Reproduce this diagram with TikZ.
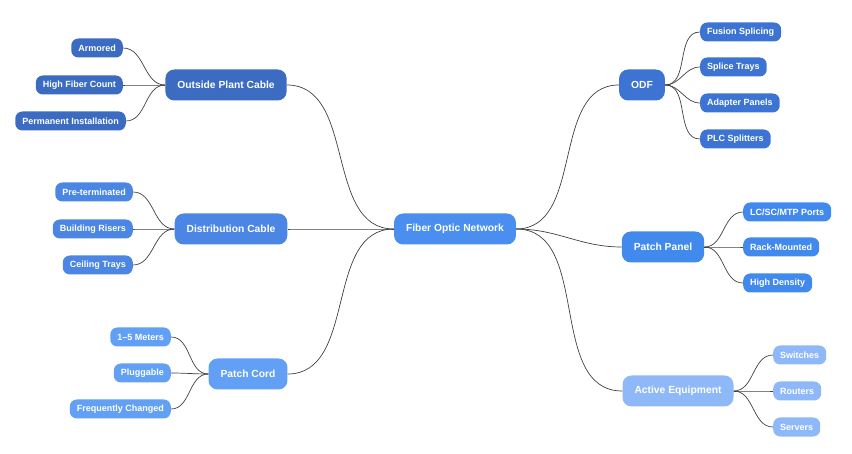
\documentclass[tikz,border=0pt]{standalone}
\usepackage{fontspec}
\setmainfont{Liberation Sans}
\begin{document}
\begin{tikzpicture}[x=1pt,y=-1pt,
  base/.style={rounded corners=7pt,text=white,font=\bfseries\fontsize{9}{10}\selectfont,inner xsep=7pt,minimum height=19pt},
  main/.style={base,rounded corners=9pt,font=\bfseries\fontsize{10.3}{12}\selectfont,minimum height=31pt,inner xsep=12pt},
  leafL/.style={base,anchor=east,fill=#1},
  leafR/.style={base,anchor=west,fill=#1},
  link/.style={draw=black!75,line width=0.7pt},
]
\useasboundingbox (0,0) rectangle (852,454);
\definecolor{cA}{HTML}{3B6CC2}
\definecolor{cB}{HTML}{4B86E4}
\definecolor{cC}{HTML}{62A0F6}
\definecolor{cD}{HTML}{3D74D3}
\definecolor{cE}{HTML}{4289EE}
\definecolor{cF}{HTML}{8FB8F8}
\definecolor{cM}{HTML}{4A8EF0}

\node[main,fill=cM] (root) at (455,229) {Fiber Optic Network};

\node[main,fill=cA] (opc) at (226,85) {Outside Plant Cable};
\node[main,fill=cB] (dc) at (231,229) {Distribution Cable};
\node[main,fill=cC] (pc) at (248,374) {Patch Cord};
\node[main,fill=cD] (odf) at (642,85) {ODF};
\node[main,fill=cE] (pp) at (663,247) {Patch Panel};
\node[main,fill=cF] (ae) at (678,391) {Active Equipment};

\node[leafL=cA] (a1) at (123,48) {Armored};
\node[leafL=cA] (a2) at (123,85) {High Fiber Count};
\node[leafL=cA] (a3) at (126,121) {Permanent Installation};
\node[leafL=cB] (b1) at (133,192) {Pre-terminated};
\node[leafL=cB] (b2) at (133,229) {Building Risers};
\node[leafL=cB] (b3) at (133,265) {Ceiling Trays};
\node[leafL=cC] (c1) at (171,337) {1–5 Meters};
\node[leafL=cC] (c2) at (171,373) {Pluggable};
\node[leafL=cC] (c3) at (171,409) {Frequently Changed};

\node[leafR=cD] (d1) at (700,32) {Fusion Splicing};
\node[leafR=cD] (d2) at (700,67) {Splice Trays};
\node[leafR=cD] (d3) at (700,103) {Adapter Panels};
\node[leafR=cD] (d4) at (700,139) {PLC Splitters};
\node[leafR=cE] (e1) at (743,212) {LC/SC/MTP Ports};
\node[leafR=cE] (e2) at (743,247) {Rack-Mounted};
\node[leafR=cE] (e3) at (743,283) {High Density};
\node[leafR=cF] (f1) at (773,355) {Switches};
\node[leafR=cF] (f2) at (773,391) {Routers};
\node[leafR=cF] (f3) at (773,427) {Servers};

\foreach \p in {opc,dc,pc} \draw[link] (root.west) to[out=180,in=0] (\p.east);
\foreach \p in {odf,pp,ae} \draw[link] (root.east) to[out=0,in=180] (\p.west);
\foreach \c in {a1,a2,a3} \draw[link] (opc.west) to[out=180,in=0] (\c.east);
\foreach \c in {b1,b2,b3} \draw[link] (dc.west) to[out=180,in=0] (\c.east);
\foreach \c in {c1,c2,c3} \draw[link] (pc.west) to[out=180,in=0] (\c.east);
\foreach \c in {d1,d2,d3,d4} \draw[link] (odf.east) to[out=0,in=180] (\c.west);
\foreach \c in {e1,e2,e3} \draw[link] (pp.east) to[out=0,in=180] (\c.west);
\foreach \c in {f1,f2,f3} \draw[link] (ae.east) to[out=0,in=180] (\c.west);
\end{tikzpicture}
\end{document}
